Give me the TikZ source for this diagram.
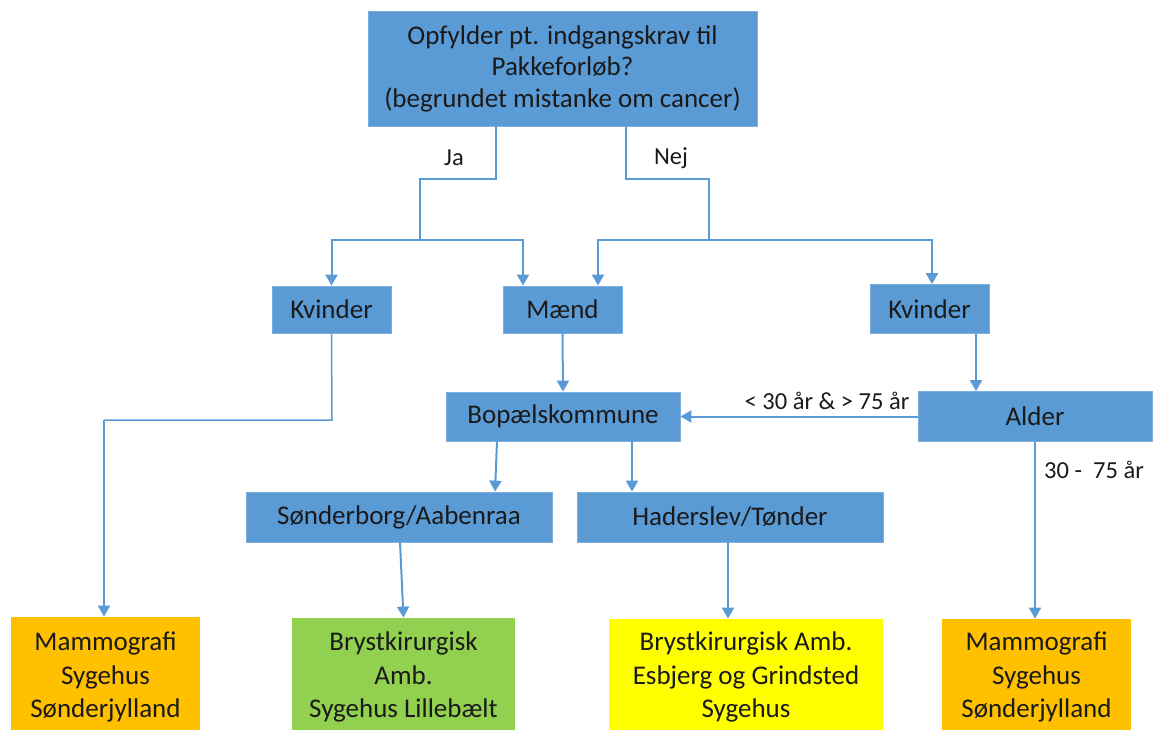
\documentclass[tikz,border=0pt]{standalone}
\usepackage{fontspec}
\setmainfont{Carlito}
\usetikzlibrary{arrows.meta}
\definecolor{bluebox}{HTML}{5B9BD5}
\definecolor{orangebox}{HTML}{FFC000}
\definecolor{greenbox}{HTML}{92D050}
\definecolor{yellowbox}{HTML}{FFFF00}
\definecolor{txt}{HTML}{1A1A1A}
\begin{document}
\begin{tikzpicture}[x=1pt,y=-1pt,
  box/.style={draw=bluebox!80!white,line width=0.8pt,fill=bluebox,inner sep=0pt,align=center,
    text=txt,font=\fontsize{27}{31.5}\selectfont},
  res/.style={box,draw=none,font=\fontsize{27}{33.5}\selectfont},
  link/.style={draw=bluebox,line width=1.5pt},
  arr/.style={draw=bluebox,line width=2pt,-{Triangle[width=12pt,length=11pt]}},
  lbl/.style={text=txt,font=\fontsize{24.5}{30}\selectfont,inner sep=0pt}]
\useasboundingbox (0,0) rectangle (1153,729);
% nodes
\node[box,minimum width=389pt,minimum height=115pt] (top) at (562.5,68.5)
  {Opfylder pt. indgangskrav til\\Pakkeforløb?\\(begrundet mistanke om cancer)};
\node[box,minimum width=119pt,minimum height=47pt] (kvA) at (331.5,309.5) {Kvinder};
\node[box,minimum width=119pt,minimum height=47pt] (maend) at (562.5,309.5) {Mænd};
\node[box,minimum width=119pt,minimum height=49pt] (kvB) at (929.5,309) {Kvinder};
\node[box,minimum width=234pt,minimum height=49pt] (bop) at (563,416.5) {Bopælskommune};
\node[box,minimum width=234pt,minimum height=50pt] (alder) at (1035,416.5) {Alder};
\node[box,minimum width=306pt,minimum height=50pt] (sonder) at (399,517) {Sønderborg/Aabenraa};
\node[box,minimum width=306pt,minimum height=50pt] (hader) at (730,517) {Haderslev/Tønder};
\node[res,fill=orangebox,minimum width=189pt,minimum height=120pt] (mamA) at (105.5,677)
  {Mammografi\\Sygehus\\Sønderjylland};
\node[res,fill=greenbox,minimum width=223pt,minimum height=118pt] (bryA) at (403.5,677)
  {Brystkirurgisk\\Amb.\\Sygehus Lillebælt};
\node[res,fill=yellowbox,minimum width=274pt,minimum height=116pt] (bryB) at (746,677)
  {Brystkirurgisk Amb.\\Esbjerg og Grindsted\\Sygehus};
\node[res,fill=orangebox,minimum width=189pt,minimum height=116pt] (mamB) at (1036.5,677)
  {Mammografi\\Sygehus\\Sønderjylland};
% labels
\node[lbl] (ja) at (454,158) {Ja};
\node[lbl] (nej) at (671,158) {Nej};
\node[lbl] (lt) at (827,401) {< 30 år \& > 75 år};
\node[lbl] (mid) at (1094,470) {30 -\ \ 75 år};
% coordinates
\coordinate (jaA) at (496,179);
\coordinate (jaB) at (420,179);
\coordinate (jaC) at (420,240);
\coordinate (nejA) at (626,179);
\coordinate (nejB) at (709,179);
\coordinate (nejC) at (709,240);
\coordinate (kvTurn) at (332,420);
\coordinate (mamTurn) at (104,420);
% connectors
\draw[link] (top.south -| jaA) -- (jaA) -- (jaB) -- (jaC);
\draw[link] (top.south -| nejA) -- (nejA) -- (nejB) -- (nejC);
\draw[arr] (jaC) -| (kvA.north);
\draw[arr] (jaC) -| ([xshift=-39.5pt]maend.north);
\draw[arr] (nejC) -| ([xshift=35.5pt]maend.north);
\draw[arr] (nejC) -| ([xshift=2.5pt]kvB.north);
\draw[link] (kvA.south) -- (kvTurn) -- (mamTurn);
\draw[arr] (mamTurn) -- (mamTurn |- mamA.north);
\draw[arr] (maend.south) -- (bop.north);
\draw[arr] ([xshift=46.5pt]kvB.south) -- ([xshift=-59pt]alder.north);
\draw[arr] (alder.west) -- (bop.east);
\draw[arr] (alder.south) -- (alder.south |- mamB.north);
\draw[arr] ([xshift=-66pt]bop.south) -- ([xshift=96pt]sonder.north);
\draw[arr] ([xshift=69pt]bop.south) -- ([xshift=-98pt]hader.north);
\draw[arr] ([xshift=1pt]sonder.south) -- (bryA.north);
\draw[arr] ([xshift=-2pt]hader.south) -- ([xshift=-18pt]bryB.north);
\end{tikzpicture}
\end{document}
